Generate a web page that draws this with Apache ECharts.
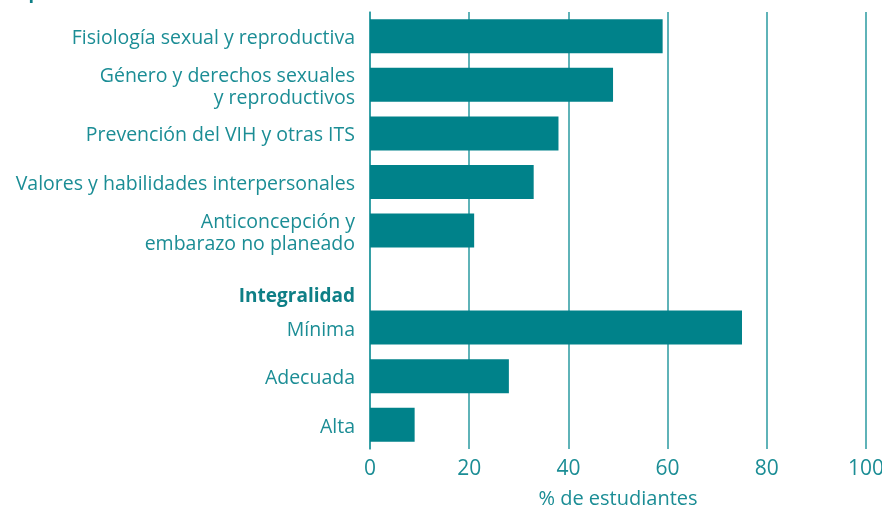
<!DOCTYPE html>
<html>
<head>
<meta charset="utf-8">
<script src="https://cdn.jsdelivr.net/npm/echarts@6/dist/echarts.min.js"></script>
<style>
html,body{margin:0;padding:0;background:#fff;}
#main{width:882px;height:506px;}
</style>
</head>
<body>
<div id="main"></div>
<script>
// categorias, de arriba hacia abajo
var categorias = [
    "Fisiología sexual y reproductiva",
    "Género y derechos sexuales\ny reproductivos",
    "Prevención del VIH y otras ITS",
    "Valores y habilidades interpersonales",
    "Anticoncepción y\nembarazo no planeado",
    "Integralidad",
    "Mínima",
    "Adecuada",
    "Alta"
];
// % de estudiantes ("-" = fila de encabezado)
var valores = [59, 49, 38, 33, 21, "-", 75, 28, 9];
var ticksX = [0, 20, 40, 60, 80, 100];

var teal = "#00828a";
var texto = "#1b8d95";
var fuente = "Open Sans";

var myChart = echarts.init(document.getElementById("main"));
var option = {
    animation: false,
    title: {
        text: "Tópicos de educación sexual cubiertos",
        right: 527,
        top: -20,
        textStyle: {color: "#0e7f86", fontSize: 18, fontWeight: "bold", fontFamily: fuente}
    },
    grid: {left: 370, right: 16, top: 12, bottom: 57, outerBoundsMode: "none"},
    xAxis: {
        type: "value",
        min: 0,
        max: 100,
        interval: 20,
        name: "% de estudiantes",
        nameLocation: "middle",
        nameGap: 40,
        nameTextStyle: {color: texto, fontSize: 20, fontFamily: fuente},
        axisLine: {show: false},
        axisTick: {show: false},
        axisLabel: {
            color: texto, fontSize: 21, fontFamily: fuente, margin: 10,
            formatter: function(v){ return ticksX.indexOf(v) >= 0 ? v : ""; }
        },
        splitLine: {show: true, lineStyle: {color: "#2a9aa0", width: 1.5}}
    },
    yAxis: {
        type: "category",
        inverse: true,
        data: categorias,
        axisLine: {show: true, lineStyle: {color: "#2a9aa0", width: 1.5}},
        axisTick: {show: false},
        axisLabel: {
            color: texto, fontSize: 19.5, fontFamily: fuente, margin: 15, lineHeight: 22,
            padding: [5, 0, 0, 0],
            formatter: function(v){
                if (v == "Integralidad") return "{b|" + v + "}";
                return v;
            },
            rich: {
                b: {color: "#0e7f86", fontSize: 19, fontWeight: "bold", fontFamily: fuente, padding: [30, 0, 0, 0]}
            }
        }
    },
    series: [{
        type: "bar",
        data: valores,
        barWidth: 34,
        itemStyle: {color: teal}
    }]
};
myChart.setOption(option);
</script>
</body>
</html>
